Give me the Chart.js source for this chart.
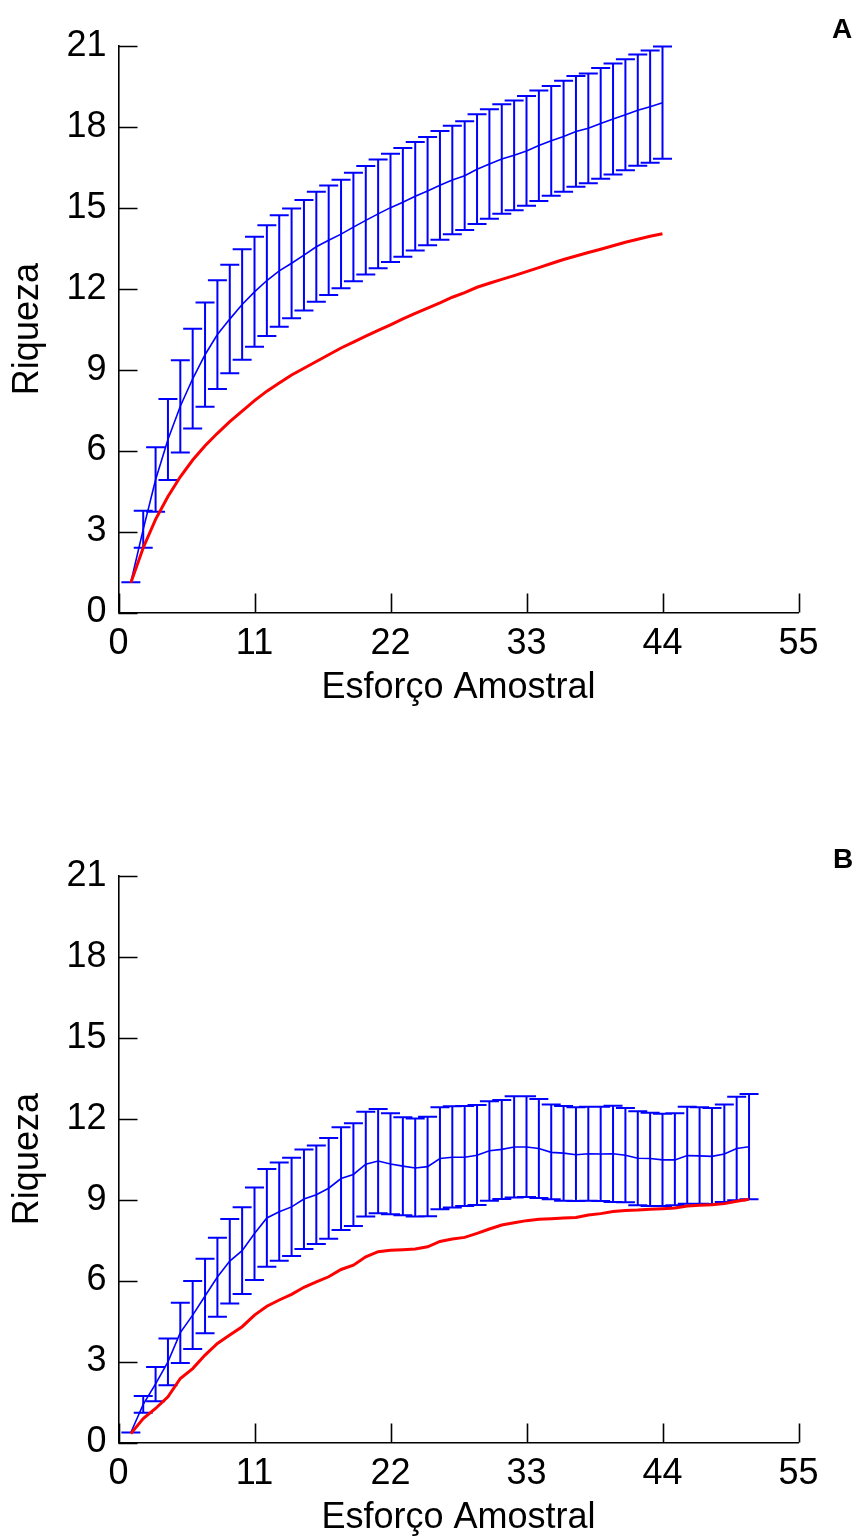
<!DOCTYPE html>
<html>
<head>
<meta charset="utf-8">
<script src="https://cdn.jsdelivr.net/npm/chart.js@4.4.1/dist/chart.umd.min.js"></script>
<style>
  body { margin: 0; background: #fff; width: 862px; height: 1540px; position: relative; overflow: hidden; }
  .panel { position: absolute; left: 0; width: 862px; height: 710px; }
  .panel canvas { display: block; }
  .tag { position: absolute; font: bold 28px "Liberation Sans", Arial, sans-serif; color: #000; line-height: normal; }
</style>
</head>
<body>
<div class="panel" style="top:0"><canvas id="chartA" width="862" height="710"></canvas></div>
<div class="tag" style="left:832px;top:13px">A</div>
<div class="panel" style="top:830px"><canvas id="chartB" width="862" height="710"></canvas></div>
<div class="tag" style="left:833px;top:843px">B</div>
<script>
// Painel A: esforço 1..44
const esforcoA = [1, 2, 3, 4, 5, 6, 7, 8, 9, 10, 11, 12, 13, 14, 15, 16, 17, 18, 19, 20, 21, 22,
  23, 24, 25, 26, 27, 28, 29, 30, 31, 32, 33, 34, 35, 36, 37, 38, 39, 40, 41, 42, 43, 44];
const mediaA = [1.12, 3.08, 4.92, 6.41, 7.64, 8.66, 9.55, 10.3, 10.87, 11.41, 11.88, 12.3, 12.66,
  12.94, 13.24, 13.55, 13.79, 14.02, 14.28, 14.53, 14.77, 15.0, 15.2, 15.42, 15.62, 15.83, 16.02,
  16.18, 16.42, 16.62, 16.8, 16.94, 17.1, 17.3, 17.48, 17.64, 17.82, 17.94, 18.12, 18.28, 18.44,
  18.61, 18.74, 18.89];
const supA = [1.12, 3.77, 6.12, 7.91, 9.35, 10.51, 11.49, 12.31, 12.88, 13.46, 13.92, 14.35, 14.72,
  14.97, 15.28, 15.59, 15.82, 16.03, 16.29, 16.54, 16.78, 17.0, 17.21, 17.43, 17.62, 17.84, 18.03,
  18.2, 18.46, 18.65, 18.83, 18.97, 19.14, 19.34, 19.51, 19.7, 19.88, 19.97, 20.17, 20.34, 20.5,
  20.67, 20.82, 20.97];
const infA = [1.12, 2.4, 3.73, 4.91, 5.93, 6.82, 7.62, 8.28, 8.86, 9.36, 9.85, 10.24, 10.59, 10.9,
  11.19, 11.51, 11.76, 12.01, 12.27, 12.52, 12.75, 12.99, 13.18, 13.41, 13.61, 13.81, 14.01, 14.17,
  14.39, 14.59, 14.77, 14.9, 15.07, 15.25, 15.44, 15.59, 15.77, 15.9, 16.07, 16.23, 16.39, 16.55,
  16.66, 16.81];
const obsA = [1.1, 2.4, 3.45, 4.3, 5.03, 5.65, 6.18, 6.64, 7.07, 7.46, 7.85, 8.2, 8.5, 8.8, 9.05,
  9.3, 9.55, 9.8, 10.02, 10.24, 10.45, 10.66, 10.88, 11.08, 11.28, 11.47, 11.68, 11.85, 12.05, 12.2,
  12.34, 12.48, 12.63, 12.78, 12.93, 13.08, 13.21, 13.34, 13.46, 13.59, 13.72, 13.83, 13.94, 14.03];

// Painel B: esforço 1..51
const esforcoB = [1, 2, 3, 4, 5, 6, 7, 8, 9, 10, 11, 12, 13, 14, 15, 16, 17, 18, 19, 20, 21, 22,
  23, 24, 25, 26, 27, 28, 29, 30, 31, 32, 33, 34, 35, 36, 37, 38, 39, 40, 41, 42, 43, 44, 45, 46,
  47, 48, 49, 50, 51];
const mediaB = [0.37, 1.41, 2.17, 2.99, 4.07, 4.72, 5.43, 6.13, 6.72, 7.11, 7.74, 8.32, 8.55, 8.73,
  9.02, 9.18, 9.42, 9.78, 9.93, 10.31, 10.43, 10.32, 10.24, 10.17, 10.22, 10.52, 10.57, 10.57, 10.64,
  10.81, 10.86, 10.95, 10.95, 10.89, 10.75, 10.72, 10.66, 10.7, 10.69, 10.7, 10.64, 10.53, 10.52,
  10.47, 10.47, 10.63, 10.62, 10.6, 10.69, 10.89, 10.96];
const supB = [0.37, 1.72, 2.8, 3.85, 5.18, 5.98, 6.81, 7.59, 8.28, 8.72, 9.45, 10.13, 10.37, 10.55,
  10.86, 11.0, 11.28, 11.68, 11.83, 12.25, 12.36, 12.2, 12.05, 12.0, 12.07, 12.42, 12.46, 12.47, 12.5,
  12.64, 12.69, 12.83, 12.83, 12.73, 12.52, 12.47, 12.42, 12.44, 12.44, 12.48, 12.39, 12.27, 12.22,
  12.18, 12.2, 12.44, 12.42, 12.39, 12.52, 12.81, 12.91];
const infB = [0.37, 1.1, 1.53, 2.12, 2.95, 3.46, 4.05, 4.66, 5.15, 5.5, 6.02, 6.51, 6.73, 6.91, 7.17,
  7.35, 7.55, 7.87, 8.02, 8.37, 8.49, 8.46, 8.42, 8.37, 8.38, 8.64, 8.71, 8.76, 8.8, 8.96, 9.02, 9.08,
  9.1, 9.06, 9.01, 8.96, 8.95, 8.96, 8.95, 8.91, 8.9, 8.79, 8.76, 8.76, 8.79, 8.85, 8.85, 8.84, 8.91,
  8.98, 9.01];
const obsB = [0.33, 0.89, 1.26, 1.69, 2.37, 2.74, 3.24, 3.67, 3.98, 4.29, 4.72, 5.05, 5.28, 5.49,
  5.75, 5.95, 6.14, 6.41, 6.57, 6.88, 7.07, 7.12, 7.14, 7.17, 7.25, 7.45, 7.54, 7.6, 7.75, 7.91, 8.06,
  8.14, 8.22, 8.27, 8.29, 8.32, 8.34, 8.43, 8.48, 8.56, 8.6, 8.61, 8.64, 8.66, 8.69, 8.76, 8.79, 8.81,
  8.85, 8.94, 9.01];

// Eixos
const xTicks = [0, 11, 22, 33, 44, 55];
const yTicks = [0, 3, 6, 9, 12, 15, 18, 21];

Chart.defaults.font.family = '"Liberation Sans", Arial, sans-serif';
Chart.defaults.color = '#000';

// barras de erro (linha vertical + capas) desenhadas antes das linhas
const errorBars = {
  id: 'errorBars',
  beforeDatasetsDraw(chart, args, opts) {
    const { ctx, scales: { x, y } } = chart;
    ctx.save();
    ctx.strokeStyle = opts.color;
    ctx.lineWidth = opts.width;
    ctx.beginPath();
    opts.xs.forEach((v, i) => {
      const px = x.getPixelForValue(v);
      const top = y.getPixelForValue(opts.upper[i]);
      const bot = y.getPixelForValue(opts.lower[i]);
      ctx.moveTo(px, top); ctx.lineTo(px, bot);
      ctx.moveTo(px - opts.cap, top); ctx.lineTo(px + opts.cap, top);
      ctx.moveTo(px - opts.cap, bot); ctx.lineTo(px + opts.cap, bot);
    });
    ctx.stroke();
    ctx.restore();
  }
};

// marcas dos ticks voltadas para dentro da área do gráfico
const innerTicks = {
  id: 'innerTicks',
  afterDraw(chart, args, opts) {
    const { ctx, chartArea, scales: { x, y } } = chart;
    ctx.save();
    ctx.strokeStyle = '#000';
    ctx.lineWidth = opts.width;
    ctx.beginPath();
    y.ticks.forEach((t, i) => {
      const py = Math.round(y.getPixelForTick(i)) + 0.5;
      ctx.moveTo(chartArea.left, py);
      ctx.lineTo(chartArea.left + opts.length, py);
    });
    x.ticks.forEach((t, i) => {
      const px = Math.round(x.getPixelForTick(i)) + 0.5;
      ctx.moveTo(px, chartArea.bottom);
      ctx.lineTo(px, chartArea.bottom - opts.length);
    });
    ctx.stroke();
    ctx.restore();
  }
};

function pontos(xs, ys) {
  return xs.map((v, i) => ({ x: v, y: ys[i] }));
}

function painel(id, xs, media, inf, sup, obs) {
  return new Chart(document.getElementById(id), {
    type: 'line',
    data: {
      datasets: [{
        label: 'Observada',
        data: pontos(xs, obs),
        borderColor: '#ff0000',
        borderWidth: 3,
        pointRadius: 0,
        tension: 0
      }, {
        label: 'Estimada',
        data: pontos(xs, media),
        borderColor: '#0000ff',
        borderWidth: 1.6,
        pointRadius: 0,
        tension: 0
      }]
    },
    options: {
      responsive: false,
      animation: false,
      layout: { padding: { top: 45.7, right: 63.5, left: 0, bottom: 0 } },
      scales: {
        x: {
          type: 'linear',
          min: 0,
          max: 55,
          afterBuildTicks: s => { s.ticks = xTicks.map(v => ({ value: v })); },
          afterFit: s => { s.height = 97.5; },
          grid: { display: false, drawTicks: false },
          border: { display: true, color: '#000', width: 1.6 },
          ticks: { font: { size: 36 }, padding: 10, maxRotation: 0 },
          title: {
            display: true,
            text: 'Esforço Amostral',
            font: { size: 36 },
            padding: { top: 4, bottom: 0 }
          }
        },
        y: {
          min: 0,
          max: 21,
          afterBuildTicks: s => { s.ticks = yTicks.map(v => ({ value: v })); },
          afterFit: s => { s.width = 118.5; },
          grid: { display: false, drawTicks: false },
          border: { display: true, color: '#000', width: 1.6 },
          ticks: { font: { size: 36 }, padding: 12 },
          title: {
            display: true,
            text: 'Riqueza',
            font: { size: 36 },
            padding: { top: 6, bottom: 0 }
          }
        }
      },
      plugins: {
        legend: { display: false },
        tooltip: { enabled: false },
        errorBars: { xs: xs, lower: inf, upper: sup, color: '#0000ff', width: 2, cap: 9.5 },
        innerTicks: { length: 19, width: 1.6 }
      }
    },
    plugins: [errorBars, innerTicks]
  });
}

painel('chartA', esforcoA, mediaA, infA, supA, obsA);
painel('chartB', esforcoB, mediaB, infB, supB, obsB);
</script>
</body>
</html>
